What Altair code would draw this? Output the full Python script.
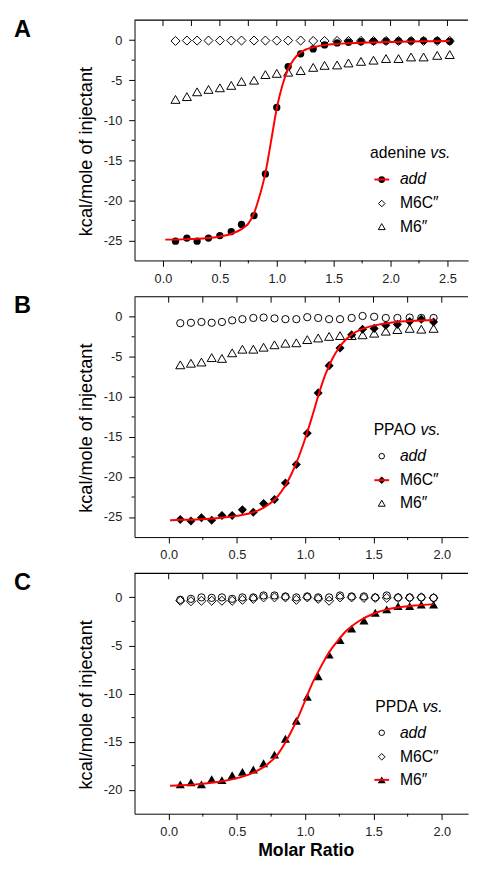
import altair as alt
import pandas as pd

FONT = "Liberation Sans"

# ---------------- Panel A : adenine vs. ----------------
A_x = [0.11, 0.21, 0.30, 0.40, 0.50, 0.60, 0.69, 0.80, 0.90, 1.00, 1.10, 1.21,
       1.32, 1.42, 1.53, 1.63, 1.74, 1.85, 1.96, 2.07, 2.18, 2.29, 2.41, 2.52]
A_add = [-25.1, -24.7, -25.1, -24.7, -24.4, -23.9, -23.0, -21.9, -16.7, -8.4, -3.3, -1.7,
         -1.1, -0.6, -0.35, -0.25, -0.2, -0.15, -0.12, -0.1, -0.1, -0.05, -0.05, -0.15]
A_m6c = [-0.1, -0.05, -0.05, -0.05, -0.05, -0.05, -0.05, -0.05, -0.05, -0.05, -0.05, -0.05,
         -0.1, -0.1, -0.1, -0.1, -0.1, -0.1, -0.1, -0.1, -0.1, -0.1, -0.1, -0.1]
A_m6 = [-7.4, -7.05, -6.45, -6.15, -5.95, -5.65, -5.15, -5.0, -4.3, -4.15, -4.0, -3.8,
        -3.4, -3.15, -3.1, -2.85, -2.65, -2.5, -2.3, -2.3, -2.1, -2.1, -1.9, -1.8]
A_fit_x = [0.02, 0.1, 0.2, 0.3, 0.4, 0.5, 0.6, 0.7, 0.75, 0.8, 0.85, 0.9, 0.95, 1.0,
           1.05, 1.1, 1.15, 1.2, 1.25, 1.3, 1.4, 1.5, 1.6, 1.8, 2.0, 2.2, 2.4, 2.52]
A_fit_y = [-24.9, -24.9, -24.85, -24.8, -24.7, -24.5, -24.2, -23.5, -22.9, -21.6, -19.4,
           -16.6, -12.6, -8.5, -5.6, -3.6, -2.4, -1.6, -1.2, -0.95, -0.65, -0.5, -0.4,
           -0.3, -0.22, -0.17, -0.13, -0.1]

# ---------------- Panel B : PPAO vs. ----------------
B_x = [0.085, 0.163, 0.24, 0.315, 0.39, 0.465, 0.54, 0.62, 0.695, 0.775, 0.855, 0.935,
       1.015, 1.095, 1.175, 1.255, 1.34, 1.42, 1.505, 1.59, 1.675, 1.765, 1.85, 1.94]
B_add = [-0.8, -0.75, -0.65, -0.75, -0.65, -0.45, -0.3, -0.15, -0.1, -0.2, -0.3, -0.3,
         -0.05, -0.15, -0.3, -0.3, -0.15, 0.1, 0.0, -0.15, -0.15, -0.1, -0.15, -0.15]
B_m6c = [-25.3, -25.5, -25.1, -25.4, -24.8, -24.8, -24.1, -24.4, -23.3, -22.8, -20.75, -18.45,
         -14.55, -9.5, -6.1, -3.9, -2.25, -1.55, -1.45, -1.05, -0.95, -0.6, -0.3, -0.65]
B_m6 = [-6.0, -5.8, -5.65, -5.1, -5.2, -4.5, -4.05, -4.05, -3.8, -3.5, -3.3, -3.25,
        -2.85, -2.65, -2.45, -2.35, -2.35, -2.25, -2.05, -1.8, -1.6, -1.45, -1.55, -1.45]
B_fit_x = [0.01, 0.1, 0.2, 0.3, 0.4, 0.5, 0.6, 0.7, 0.8, 0.85, 0.9, 0.95, 1.0, 1.05, 1.1,
           1.15, 1.2, 1.25, 1.3, 1.35, 1.4, 1.5, 1.6, 1.7, 1.8, 1.94]
B_fit_y = [-25.4, -25.35, -25.3, -25.2, -25.05, -24.85, -24.5, -23.8, -22.4, -21.2, -19.6,
           -17.6, -15.2, -12.5, -9.6, -7.1, -5.2, -3.8, -2.8, -2.1, -1.65, -1.1, -0.8,
           -0.6, -0.5, -0.4]

# ---------------- Panel C : PPDA vs. ----------------
C_x = [0.085, 0.163, 0.24, 0.315, 0.39, 0.465, 0.54, 0.62, 0.695, 0.775, 0.855, 0.935,
       1.015, 1.095, 1.175, 1.255, 1.34, 1.43, 1.513, 1.597, 1.68, 1.765, 1.85, 1.94]
C_add = [-0.25, -0.15, 0.0, -0.05, 0.0, -0.15, 0.0, 0.0, 0.2, 0.2, 0.1, 0.0,
         0.1, 0.0, 0.0, 0.2, 0.1, 0.1, 0.0, 0.2, 0.0, 0.0, 0.0, -0.05]
C_m6c = [-0.35, -0.4, -0.35, -0.35, -0.35, -0.35, -0.25, -0.15, 0.0, 0.0, 0.0, -0.25,
         0.0, -0.15, -0.35, 0.0, 0.0, -0.05, -0.05, -0.05, -0.05, -0.05, 0.0, -0.05]
C_m6 = [-19.45, -19.25, -19.45, -18.9, -19.0, -18.5, -18.15, -17.9, -17.25, -16.35, -14.7,
        -12.85, -10.35, -8.2, -5.95, -4.45, -3.25, -2.4, -1.6, -1.25, -0.9, -0.9, -0.75, -0.75]
C_fit_x = [0.01, 0.1, 0.2, 0.3, 0.4, 0.5, 0.6, 0.7, 0.8, 0.85, 0.9, 0.95, 1.0, 1.05, 1.1,
           1.15, 1.2, 1.25, 1.3, 1.35, 1.4, 1.5, 1.6, 1.7, 1.8, 1.94]
C_fit_y = [-19.6, -19.55, -19.45, -19.3, -19.1, -18.8, -18.35, -17.6, -16.3, -15.2, -13.9,
           -12.4, -10.7, -9.0, -7.6, -6.3, -5.2, -4.3, -3.5, -2.9, -2.4, -1.7, -1.25, -1.0,
           -0.85, -0.7]

SERIES_NAMES = ["add", "M6C\u2033", "M6\u2033"]
SHAPES = ["circle", "diamond", "triangle-up"]
PLOT_SIZE = [55, 85, 85]
LEGEND_SIZE = [32, 45, 50]

W = 340
H = 245
ROW_Y = [162.5, 187, 210.5]


def steps(lo, hi, step):
    n = int(round((hi - lo) / step))
    return [lo + step * i for i in range(n + 1)]


def panel(letter, prefix, prefix_end, xs, ys_list, fitted, fit_x, fit_y, xdom, ydom, xtitle):
    pts = [pd.DataFrame({"x": xs, "y": ys}) for ys in ys_list]
    fit = pd.DataFrame({"x": fit_x, "y": fit_y})
    one = pd.DataFrame({"k": [1]})

    xs_scale = alt.Scale(domain=xdom, nice=False, zero=False)
    ys_scale = alt.Scale(domain=ydom, nice=False, zero=False)

    x_all = [v for v in steps(-0.25, 3.0, 0.25) if v <= xdom[1]]
    x_major = [v for v in x_all if v >= 0 and (v * 2) % 1 == 0]
    minor_x = [v for v in x_all if (v * 2) % 1 != 0 and v > xdom[0]]
    top_x = [v for v in x_all if v >= 0]
    y_major = steps(-25, 0, 5)
    minor_y = [v for v in steps(ydom[0], ydom[1], 2.5) if v % 5 != 0 and ydom[0] < v < ydom[1]]

    # frame helpers expressed in data coordinates (the axis range)
    top_edge = pd.DataFrame({"x": [xdom[0], xdom[1]], "y": [ydom[1], ydom[1]]})
    top_ticks = pd.DataFrame({"x": top_x, "y": [ydom[1]] * len(top_x)})
    bottom_minor = pd.DataFrame({"x": minor_x, "y": [ydom[0]] * len(minor_x)})
    left_minor = pd.DataFrame({"x": [xdom[0]] * len(minor_y), "y": minor_y})

    bottom_kw = dict(
        orient="bottom", values=x_major, format=".1f", domain=True, domainColor="black",
        tickColor="black", tickSize=6,
        labelPadding=6, labelOverlap=False, labelFlush=False,
        labelFont=FONT, labelFontSize=13, labelColor="#222",
        grid=False,
    )
    if xtitle:
        bottom_kw.update(title="Molar Ratio", titleFont=FONT, titleFontSize=18,
                         titleFontWeight="bold", titleColor="black",
                         titleX=174.5, titleY=43, titleBaseline="alphabetic")
    else:
        bottom_kw.update(title="")
    x_bottom = alt.X("x:Q", scale=xs_scale, axis=alt.Axis(**bottom_kw))

    y_left = alt.Y(
        "y:Q", scale=ys_scale,
        axis=alt.Axis(
            orient="left", values=y_major, domain=True, domainColor="black",
            tickColor="black", tickSize=6,
            labelExpr="'' + datum.value",
            labelPadding=7, labelOverlap=False, labelFlush=False,
            labelFont=FONT, labelFontSize=13, labelColor="#222",
            title="kcal/mole of injectant", titleFont=FONT, titleFontSize=18.5,
            titleFontWeight="normal", titleColor="black",
            titleX=-43.5, titleY=133.5, titleBaseline="alphabetic",
            grid=False,
        ),
    )

    layers = []
    order = [i for i in range(3) if i != fitted] + [fitted]
    for i in order:
        filled = (i == fitted)
        layers.append(alt.Chart(pts[i]).mark_point(
            shape=SHAPES[i], size=PLOT_SIZE[i], filled=filled,
            color="black", strokeWidth=1, opacity=1,
        ).encode(x=x_bottom, y=y_left))

    layers.append(alt.Chart(fit).mark_line(color="#ff0000", strokeWidth=2,
                                           interpolate="monotone").encode(x=x_bottom, y=y_left))

    # top frame edge (along the top of the y range) and its inward ticks
    layers.append(alt.Chart(top_edge).mark_line(color="black", strokeWidth=1.2)
                  .encode(x=x_bottom, y=y_left))
    layers.append(alt.Chart(top_ticks).mark_rule(color="black", strokeWidth=1)
                  .encode(x=x_bottom, y=y_left, y2=alt.value(6)))
    # short minor ticks on bottom and left
    layers.append(alt.Chart(bottom_minor).mark_rule(color="black", strokeWidth=1)
                  .encode(x=x_bottom, y=y_left, y2=alt.value(H + 3)))
    layers.append(alt.Chart(left_minor).mark_rule(color="black", strokeWidth=1)
                  .encode(x=x_bottom, x2=alt.value(-3), y=y_left))

    # legend
    layers.append(alt.Chart(one).mark_text(text=prefix, align="right", baseline="alphabetic",
                                           font=FONT, fontSize=16, color="black")
                  .encode(x=alt.value(prefix_end), y=alt.value(141)))
    layers.append(alt.Chart(one).mark_text(text="vs.", align="left", baseline="alphabetic",
                                           font=FONT, fontSize=16, fontStyle="italic",
                                           color="black")
                  .encode(x=alt.value(prefix_end + 4.5), y=alt.value(141)))
    for i in range(3):
        ry = ROW_Y[i]
        filled = (i == fitted)
        layers.append(alt.Chart(one).mark_point(
            shape=SHAPES[i], size=LEGEND_SIZE[i] + (15 if filled else 0), filled=filled,
            color="black", strokeWidth=1, opacity=1,
        ).encode(x=alt.value(252), y=alt.value(ry)))
        if filled:
            layers.append(alt.Chart(one).mark_rule(color="#ff0000", strokeWidth=2)
                          .encode(x=alt.value(244.5), x2=alt.value(259.5), y=alt.value(ry)))
        layers.append(alt.Chart(one).mark_text(
            text=SERIES_NAMES[i], align="left", baseline="middle", font=FONT, fontSize=16,
            fontStyle="italic" if i == 0 else "normal", color="black",
        ).encode(x=alt.value(270.5), y=alt.value(ry)))

    # panel letter
    layers.append(alt.Chart(one).mark_text(text=letter, align="left", baseline="top",
                                           font=FONT, fontSize=24, fontWeight="bold",
                                           color="black")
                  .encode(x=alt.value(-123), y=alt.value(-2)))

    return alt.layer(*layers).properties(width=W, height=H)


pA = panel("A", "adenine", 297, A_x, [A_add, A_m6c, A_m6], 0, A_fit_x, A_fit_y,
           [-0.25, -0.25 + W / 116.0], [-27.5, 2.5], False)
pB = panel("B", "PPAO", 287, B_x, [B_add, B_m6c, B_m6], 1, B_fit_x, B_fit_y,
           [-0.25, -0.25 + W / 139.2], [-27.5, 2.5], False)
pC = panel("C", "PPDA", 289, C_x, [C_add, C_m6c, C_m6], 2, C_fit_x, C_fit_y,
           [-0.25, -0.25 + W / 139.2], [-22.5, 2.5], True)

chart = alt.vconcat(pA, pB, pC, spacing=37, bounds="flush").properties(
    padding={"left": 6, "top": 1, "right": 0, "bottom": 0},
    background="white",
).configure_view(strokeOpacity=0)

chart.save("out.html", embed_options={"renderer": "svg", "actions": False})
